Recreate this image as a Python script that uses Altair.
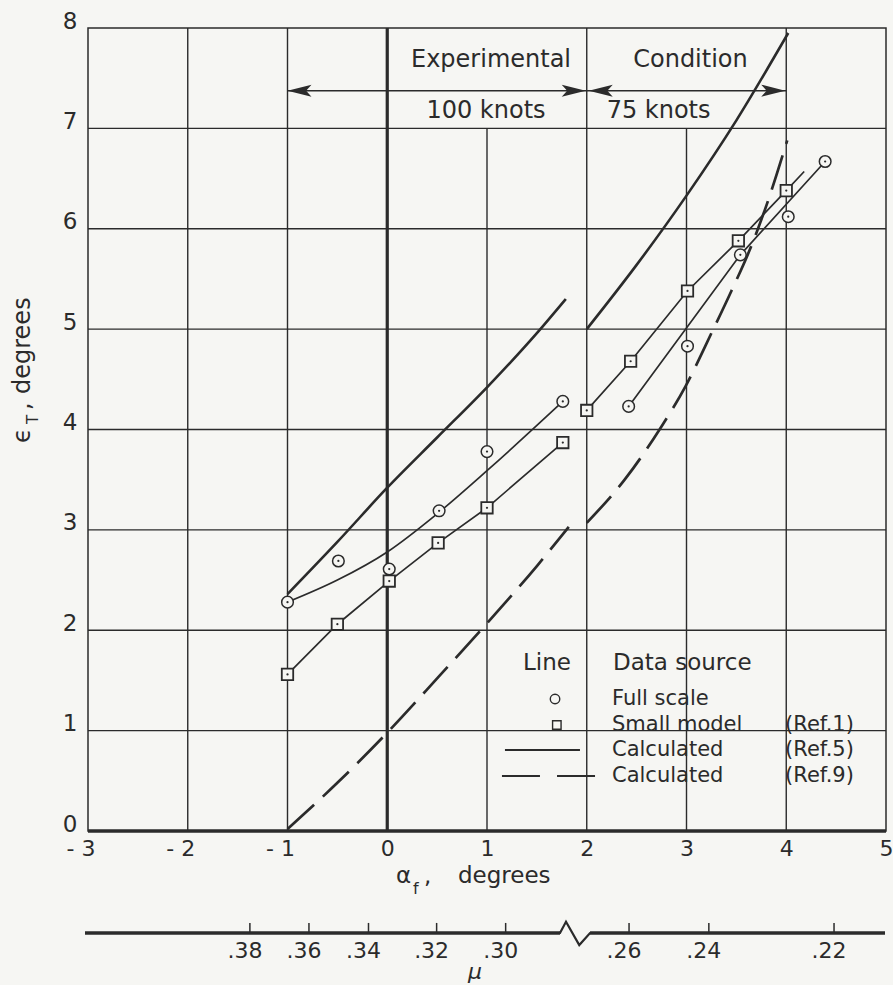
import altair as alt
import pandas as pd

INK = "#2b2b2b"
PAPER = "#f6f6f3"
FONT = "DejaVu Sans"

# ---------------- values ----------------
# measured points (alpha_f, eps_T)
full_x = [-1.0, -0.49, 0.02, 0.52, 1.0, 1.76, 2.42, 3.01, 3.54, 4.02, 4.39]
full_y = [2.28, 2.69, 2.61, 3.19, 3.78, 4.28, 4.23, 4.83, 5.74, 6.12, 6.67]
model_x = [-1.0, -0.5, 0.02, 0.51, 1.0, 1.76, 2.0, 2.44, 3.01, 3.52, 4.0]
model_y = [1.56, 2.06, 2.49, 2.87, 3.22, 3.87, 4.19, 4.68, 5.38, 5.88, 6.38]

# faired lines through the data
full100_x = [-1.0, -0.5, 0.0, 0.5, 1.0, 1.5, 1.76]
full100_y = [2.28, 2.50, 2.78, 3.16, 3.59, 4.04, 4.28]
full75_x = [2.42, 3.54, 4.39]
full75_y = [4.23, 5.74, 6.67]
model100_x = [-1.0, -0.5, 0.02, 0.51, 1.0, 1.76]
model100_y = [1.56, 2.06, 2.49, 2.87, 3.22, 3.87]
model75_x = [2.0, 2.44, 3.01, 3.52, 4.0, 4.18]
model75_y = [4.19, 4.68, 5.38, 5.88, 6.38, 6.57]

# calculated (Ref. 5) solid
ref5_100_x = [-1.0, -0.5, 0.0, 0.5, 1.0, 1.5, 1.79]
ref5_100_y = [2.36, 2.88, 3.42, 3.92, 4.42, 4.96, 5.30]
ref5_75_x = [2.0, 2.5, 3.0, 3.5, 4.02]
ref5_75_y = [5.0, 5.64, 6.33, 7.08, 7.95]

# calculated (Ref. 9) dashed
ref9_100_x = [-1.0, -0.5, 0.0, 0.5, 1.0, 1.5, 1.82]
ref9_100_y = [0.02, 0.48, 0.98, 1.52, 2.07, 2.64, 3.03]
ref9_75_x = [2.0, 2.38, 2.73, 2.99, 3.25, 3.45, 3.63, 3.79, 4.01]
ref9_75_y = [3.07, 3.50, 4.00, 4.43, 4.96, 5.38, 5.78, 6.20, 6.88]

# axes
x_ticks = [-3, -2, -1, 0, 1, 2, 3, 4, 5]
y_ticks = [0, 1, 2, 3, 4, 5, 6, 7, 8]
grid_full_x = [-2, -1, 2, 4]
grid_short_x = [1, 3]
grid_y = [1, 2, 3, 4, 5, 6, 7]

# secondary mu scale (positions in alpha_f)
mu_pos = [-1.377, -0.785, -0.188, 0.495, 1.187, 2.424, 3.224, 4.479]
mu_labels = [".38", ".36", ".34", ".32", ".30", ".26", ".24", ".22"]

# legend
legend_rows = ["Full scale", "Small model", "Calculated", "Calculated"]
legend_refs = ["", "(Ref.1)", "(Ref.5)", "(Ref.9)"]

# ---------------- helpers ----------------
xs = alt.Scale(domain=[-3, 5], nice=False, zero=False)
ys = alt.Scale(domain=[0, 8], nice=False, zero=False)

X_AXIS = alt.Axis(
    values=x_ticks, grid=False, ticks=False, domain=False, title=None,
    labelFont=FONT, labelFontSize=22, labelColor=INK, labelPadding=7,
    labelFlush=False,
    labelExpr="datum.value < 0 ? '- ' + abs(datum.value) : datum.label",
    labelAlign={"condition": {"test": "datum.value < 0", "value": "right"},
                "value": "center"},
    labelOffset={"condition": {"test": "datum.value < 0", "value": 7},
                 "value": 0},
)
Y_AXIS = alt.Axis(
    values=y_ticks, grid=False, ticks=False, domain=False, title=None,
    labelFont=FONT, labelFontSize=23, labelColor=INK, labelPadding=11,
    labelBaseline="alphabetic",
)


def X(field="x"):
    return alt.X(f"{field}:Q", scale=xs, axis=X_AXIS)


def Y(field="y"):
    return alt.Y(f"{field}:Q", scale=ys, axis=Y_AXIS)


def segs(pairs):
    rows = []
    for name, xx, yy in pairs:
        for i, (a, b) in enumerate(zip(xx, yy)):
            rows.append({"seg": name, "i": i, "x": a, "y": b})
    return pd.DataFrame(rows)


def lines(pairs, width, dash=None, interp="linear"):
    kw = dict(color=INK, strokeWidth=width, interpolate=interp, clip=False,
              strokeCap="butt")
    if dash:
        kw["strokeDash"] = dash
    return alt.Chart(segs(pairs)).mark_line(**kw).encode(
        x=X(), y=Y(), detail="seg:N", order="i:Q")


def hrule(x1, x2, y, width=1.5):
    df = pd.DataFrame({"x": [x1], "x2": [x2], "y": [y]})
    return alt.Chart(df).mark_rule(color=INK, strokeWidth=width).encode(
        x=X(), x2="x2:Q", y=Y())


def vrule(x, y1, y2, width=1.5):
    df = pd.DataFrame({"x": [x], "y": [y1], "y2": [y2]})
    return alt.Chart(df).mark_rule(color=INK, strokeWidth=width).encode(
        x=X(), y=Y(), y2="y2:Q")


def text(t, x, y, size=24, align="left", baseline="middle", angle=0,
         style="normal"):
    df = pd.DataFrame({"x": [x], "y": [y], "t": [t]})
    kw = dict(font=FONT, fontSize=size, align=align, baseline=baseline,
              color=INK, fontStyle=style)
    if angle:
        kw["angle"] = angle
    return alt.Chart(df).mark_text(**kw).encode(x=X(), y=Y(), text="t:N")


LEFT_HEAD = "M0,0L2,-0.5L1.55,0L2,0.5Z"
RIGHT_HEAD = "M0,0L-2,-0.5L-1.55,0L-2,0.5Z"


def head(x, y, shape):
    df = pd.DataFrame({"x": [x], "y": [y]})
    return alt.Chart(df).mark_point(shape=shape, size=576, filled=True,
                                    color=INK, opacity=1, strokeWidth=0).encode(
        x=X(), y=Y())


layers = []

# ---------------- grid & frame ----------------
vg = pd.DataFrame({"x": grid_full_x, "y": [0] * len(grid_full_x),
                   "y2": [8] * len(grid_full_x)})
layers.append(alt.Chart(vg).mark_rule(color=INK, strokeWidth=1.4).encode(
    x=X(), y=Y(), y2="y2:Q"))
vs = pd.DataFrame({"x": grid_short_x, "y": [0] * len(grid_short_x),
                   "y2": [7] * len(grid_short_x)})
layers.append(alt.Chart(vs).mark_rule(color=INK, strokeWidth=1.4).encode(
    x=X(), y=Y(), y2="y2:Q"))
hg = pd.DataFrame({"y": grid_y, "x": [-3] * len(grid_y), "x2": [5] * len(grid_y)})
layers.append(alt.Chart(hg).mark_rule(color=INK, strokeWidth=1.4).encode(
    y=Y(), x=X(), x2="x2:Q"))
layers.append(vrule(0, 0, 8, width=3.2))
layers.append(hrule(-3, 5, 0, width=3.4))

# ---------------- experimental condition band ----------------
ARROW_Y = 7.376
layers.append(hrule(-1, 2, ARROW_Y, width=1.5))
layers.append(hrule(2, 4, ARROW_Y, width=1.5))
layers.append(head(-1, ARROW_Y, LEFT_HEAD))
layers.append(head(1.99, ARROW_Y, RIGHT_HEAD))
layers.append(head(2.02, ARROW_Y, LEFT_HEAD))
layers.append(head(3.99, ARROW_Y, RIGHT_HEAD))
layers.append(text("Experimental", 1.04, 7.68, align="center"))
layers.append(text("Condition", 3.04, 7.68, align="center"))
layers.append(text("100 knots", 0.99, 7.17, align="center"))
layers.append(text("75 knots", 2.72, 7.17, align="center"))

# ---------------- curves ----------------
layers.append(lines([("r9a", ref9_100_x, ref9_100_y),
                     ("r9b", ref9_75_x, ref9_75_y)], 2.7, dash=[36, 12],
                    interp="monotone"))
layers.append(lines([("r5a", ref5_100_x, ref5_100_y),
                     ("r5b", ref5_75_x, ref5_75_y)], 2.6, interp="monotone"))
layers.append(lines([("fa", full100_x, full100_y)], 1.7, interp="monotone"))
layers.append(lines([("fb", full75_x, full75_y),
                     ("ma", model100_x, model100_y),
                     ("mb", model75_x, model75_y)], 1.7))

# ---------------- data symbols ----------------
fdf = pd.DataFrame({"x": full_x, "y": full_y})
mdf = pd.DataFrame({"x": model_x, "y": model_y})
layers.append(alt.Chart(fdf).mark_point(
    shape="circle", size=135, filled=True, fill=PAPER, stroke=INK,
    strokeWidth=1.5, opacity=1).encode(x=X(), y=Y()))
layers.append(alt.Chart(mdf).mark_point(
    shape="square", size=130, filled=True, fill=PAPER, stroke=INK,
    strokeWidth=1.8, opacity=1).encode(x=X(), y=Y()))
dots = pd.concat([fdf, mdf])
layers.append(alt.Chart(dots).mark_point(
    shape="circle", size=5, filled=True, color=INK, opacity=1).encode(
    x=X(), y=Y()))

# ---------------- legend ----------------
ly = [1.315, 1.056, 0.807, 0.548]
layers.append(text("Line", 1.361, 1.674, size=23))
layers.append(text("Data source", 2.263, 1.674, size=23))
for name, ref, yy in zip(legend_rows, legend_refs, ly):
    layers.append(text(name, 2.253, yy, size=21))
    if ref:
        layers.append(text(ref, 3.988, yy, size=21))
layers.append(alt.Chart(pd.DataFrame({"x": [1.682], "y": [ly[0]]})).mark_point(
    shape="circle", size=90, filled=True, fill=PAPER, stroke=INK,
    strokeWidth=1.4, opacity=1).encode(x=X(), y=Y()))
layers.append(alt.Chart(pd.DataFrame({"x": [1.70], "y": [ly[1]]})).mark_point(
    shape="square", size=72, filled=True, fill=PAPER, stroke=INK,
    strokeWidth=1.4, opacity=1).encode(x=X(), y=Y()))
layers.append(hrule(1.18, 1.932, ly[2], width=2.2))
layers.append(hrule(1.15, 1.531, ly[3], width=2.2))
layers.append(hrule(1.702, 2.083, ly[3], width=2.2))

# ---------------- axis titles ----------------
layers.append(text("\u03f5", -3.58, 3.866, size=24, angle=270,
                   baseline="alphabetic"))
layers.append(text("T", -3.50, 4.055, size=15, angle=270,
                   baseline="alphabetic"))
layers.append(text(",", -3.58, 4.194, size=24, angle=270,
                   baseline="alphabetic"))
layers.append(text("degrees", -3.58, 4.354, size=24, angle=270,
                   baseline="alphabetic"))

TY = -0.52
layers.append(text("\u03b1", 0.088, TY, size=23, baseline="alphabetic"))
layers.append(text("f", 0.258, TY - 0.11, size=16, baseline="alphabetic"))
layers.append(text(",", 0.368, TY, size=23, baseline="alphabetic"))
layers.append(text("degrees", 0.709, TY, size=23, baseline="alphabetic"))

# ---------------- secondary mu scale ----------------
MU_Y = -1.016
layers.append(hrule(-3.03, 1.732, MU_Y, width=3.4))
layers.append(hrule(2.033, 4.99, MU_Y, width=3.4))
zig = [("z", [1.70, 1.732, 1.792, 1.925, 2.033, 2.06],
        [MU_Y, MU_Y, MU_Y + 0.112, MU_Y - 0.12, MU_Y, MU_Y])]
layers.append(lines(zig, 2.2))
mt = pd.DataFrame({"x": mu_pos, "y": [MU_Y] * len(mu_pos),
                   "y2": [MU_Y + 0.1] * len(mu_pos), "t": mu_labels,
                   "ly": [-1.196] * len(mu_pos)})
layers.append(alt.Chart(mt).mark_rule(color=INK, strokeWidth=1.5).encode(
    x=X(), y=Y(), y2="y2:Q"))
layers.append(alt.Chart(mt).mark_text(
    font=FONT, fontSize=22, align="center", baseline="middle", color=INK,
    dx=-5).encode(x=X(), y=Y("ly"), text="t:N"))
layers.append(text("\u03bc", 0.88, -1.405, size=22, align="center",
                   style="italic"))

chart = alt.layer(*layers).properties(
    width=798, height=803,
    padding={"left": 88, "top": 28, "right": 7, "bottom": 154},
    autosize=alt.AutoSizeParams(type="none"),
    background=PAPER,
).configure_view(stroke=INK, strokeWidth=1.5)

chart.save("out.html", embed_options={"renderer": "svg", "actions": False})
